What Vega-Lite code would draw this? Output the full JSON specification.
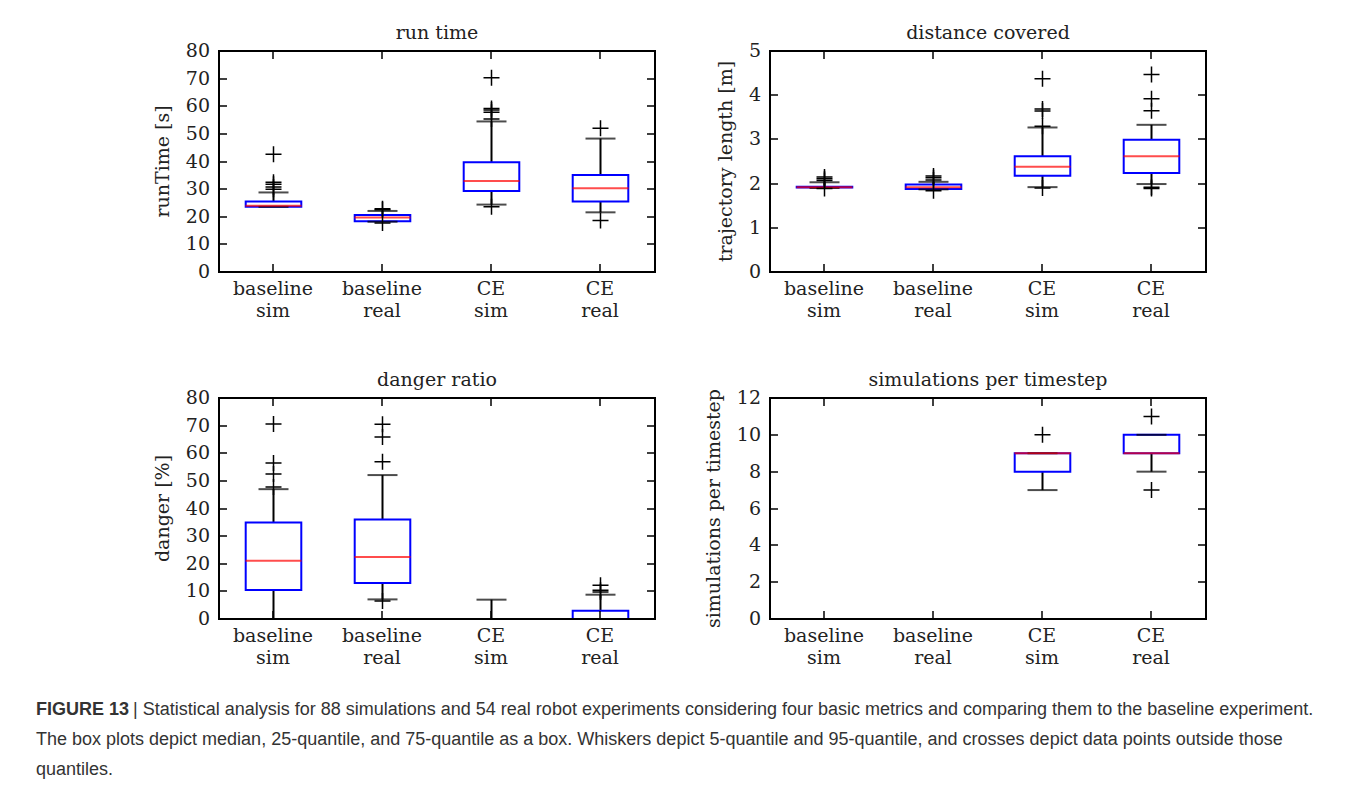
{
  "$schema": "https://vega.github.io/schema/vega-lite/v6.json",
  "background": "white",
  "padding": {"left": 36, "top": 24, "right": 10, "bottom": 5},
  "datasets": {
    "boxes": [
      {"metric": "run", "cat": "baseline sim", "lo": 23.6, "q1": 23.6, "med": 24.0, "q3": 25.5, "hi": 28.8},
      {"metric": "run", "cat": "baseline real", "lo": 18.2, "q1": 18.4, "med": 19.7, "q3": 20.6, "hi": 22.1},
      {"metric": "run", "cat": "CE sim", "lo": 24.4, "q1": 29.3, "med": 32.9, "q3": 39.7, "hi": 54.5},
      {"metric": "run", "cat": "CE real", "lo": 21.6, "q1": 25.5, "med": 30.3, "q3": 35.1, "hi": 48.3},
      {"metric": "dist", "cat": "baseline sim", "lo": 1.90, "q1": 1.91, "med": 1.92, "q3": 1.93, "hi": 2.03},
      {"metric": "dist", "cat": "baseline real", "lo": 1.87, "q1": 1.88, "med": 1.92, "q3": 1.98, "hi": 2.04},
      {"metric": "dist", "cat": "CE sim", "lo": 1.92, "q1": 2.18, "med": 2.38, "q3": 2.62, "hi": 3.27},
      {"metric": "dist", "cat": "CE real", "lo": 1.99, "q1": 2.24, "med": 2.62, "q3": 2.99, "hi": 3.33},
      {"metric": "danger", "cat": "baseline sim", "lo": 0, "q1": 10.5, "med": 21.1, "q3": 34.9, "hi": 47.0},
      {"metric": "danger", "cat": "baseline real", "lo": 7.1, "q1": 13.0, "med": 22.4, "q3": 36.0, "hi": 52.1},
      {"metric": "danger", "cat": "CE sim", "lo": 0, "q1": 0, "med": 0, "q3": 0, "hi": 7.0},
      {"metric": "danger", "cat": "CE real", "lo": 0, "q1": 0, "med": 0, "q3": 3.0, "hi": 8.8},
      {"metric": "sims", "cat": "baseline sim", "lo": 0, "q1": 0, "med": 0, "q3": 0, "hi": 0},
      {"metric": "sims", "cat": "baseline real", "lo": 0, "q1": 0, "med": 0, "q3": 0, "hi": 0},
      {"metric": "sims", "cat": "CE sim", "lo": 7, "q1": 8, "med": 9, "q3": 9, "hi": 9},
      {"metric": "sims", "cat": "CE real", "lo": 8, "q1": 9, "med": 9, "q3": 10, "hi": 10}
    ],
    "fliers": [
      {"metric": "run", "cat": "baseline sim", "v": 30.0},
      {"metric": "run", "cat": "baseline sim", "v": 30.8},
      {"metric": "run", "cat": "baseline sim", "v": 31.8},
      {"metric": "run", "cat": "baseline sim", "v": 32.5},
      {"metric": "run", "cat": "baseline sim", "v": 42.6},
      {"metric": "run", "cat": "baseline real", "v": 22.5},
      {"metric": "run", "cat": "baseline real", "v": 22.9},
      {"metric": "run", "cat": "baseline real", "v": 17.7},
      {"metric": "run", "cat": "CE sim", "v": 23.6},
      {"metric": "run", "cat": "CE sim", "v": 55.4},
      {"metric": "run", "cat": "CE sim", "v": 57.8},
      {"metric": "run", "cat": "CE sim", "v": 58.6},
      {"metric": "run", "cat": "CE sim", "v": 59.2},
      {"metric": "run", "cat": "CE sim", "v": 70.3},
      {"metric": "run", "cat": "CE real", "v": 18.6},
      {"metric": "run", "cat": "CE real", "v": 52.0},
      {"metric": "dist", "cat": "baseline sim", "v": 2.07},
      {"metric": "dist", "cat": "baseline sim", "v": 2.11},
      {"metric": "dist", "cat": "baseline sim", "v": 2.15},
      {"metric": "dist", "cat": "baseline sim", "v": 1.89},
      {"metric": "dist", "cat": "baseline real", "v": 2.08},
      {"metric": "dist", "cat": "baseline real", "v": 2.13},
      {"metric": "dist", "cat": "baseline real", "v": 2.17},
      {"metric": "dist", "cat": "baseline real", "v": 1.84},
      {"metric": "dist", "cat": "CE sim", "v": 1.90},
      {"metric": "dist", "cat": "CE sim", "v": 3.30},
      {"metric": "dist", "cat": "CE sim", "v": 3.64},
      {"metric": "dist", "cat": "CE sim", "v": 3.69},
      {"metric": "dist", "cat": "CE sim", "v": 4.37},
      {"metric": "dist", "cat": "CE real", "v": 1.89},
      {"metric": "dist", "cat": "CE real", "v": 1.92},
      {"metric": "dist", "cat": "CE real", "v": 3.65},
      {"metric": "dist", "cat": "CE real", "v": 3.92},
      {"metric": "dist", "cat": "CE real", "v": 4.47},
      {"metric": "danger", "cat": "baseline sim", "v": 47.8},
      {"metric": "danger", "cat": "baseline sim", "v": 52.5},
      {"metric": "danger", "cat": "baseline sim", "v": 56.5},
      {"metric": "danger", "cat": "baseline sim", "v": 70.6},
      {"metric": "danger", "cat": "baseline real", "v": 6.5},
      {"metric": "danger", "cat": "baseline real", "v": 56.9},
      {"metric": "danger", "cat": "baseline real", "v": 65.9},
      {"metric": "danger", "cat": "baseline real", "v": 70.5},
      {"metric": "danger", "cat": "CE real", "v": 9.8},
      {"metric": "danger", "cat": "CE real", "v": 10.4},
      {"metric": "danger", "cat": "CE real", "v": 12.2},
      {"metric": "sims", "cat": "CE sim", "v": 10},
      {"metric": "sims", "cat": "CE real", "v": 7},
      {"metric": "sims", "cat": "CE real", "v": 11}
    ],
    "caption": [
      {"part": "head", "line": 1, "text": "FIGURE 13"},
      {"part": "first", "line": 1, "text": "| Statistical analysis for 88 simulations and 54 real robot experiments considering four basic metrics and comparing them to the baseline experiment."},
      {"part": "body", "line": 2, "text": "The box plots depict median, 25-quantile, and 75-quantile as a box. Whiskers depict 5-quantile and 95-quantile, and crosses depict data points outside those"},
      {"part": "body", "line": 3, "text": "quantiles."}
    ]
  },
  "vconcat": [
    {
      "columns": 2,
      "spacing": {"column": 115, "row": 126},
      "bounds": "flush",
      "concat": [
        {
          "width": 436, "height": 221,
          "title": "run time",
          "layer": [
            {
              "data": {"name": "boxes"},
              "transform": [{"filter": "datum.metric === 'run'"}],
              "layer": [
                {"mark": {"type": "rule", "color": "black", "strokeWidth": 2},
                 "encoding": {
                   "x": {"field": "cat", "type": "nominal", "scale": {"domain": ["baseline sim", "baseline real", "CE sim", "CE real"], "paddingInner": 0, "paddingOuter": 0},
                         "axis": {"orient": "bottom", "zindex": 2, "title": null, "labelAngle": 0, "labelExpr": "split(datum.label, ' ')", "labelBaseline": "top", "labelLineHeight": 22, "labelPadding": 16}},
                   "y": {"field": "q3", "type": "quantitative", "scale": {"domain": [0, 80], "nice": false, "zero": false},
                         "axis": {"orient": "left", "zindex": 2, "title": "runTime [s]", "values": [0,10,20,30,40,50,60,70,80], "labelPadding": 17, "titlePadding": 13}},
                   "y2": {"field": "hi"}}},
                {"mark": {"type": "rule", "color": "black", "strokeWidth": 2},
                 "encoding": {
                   "x": {"field": "cat", "type": "nominal", "axis": {"orient": "top", "zindex": 2, "title": null, "labels": false}},
                   "y": {"field": "q1", "type": "quantitative", "axis": {"orient": "right", "zindex": 2, "title": null, "labels": false, "values": [0,10,20,30,40,50,60,70,80]}},
                   "y2": {"field": "lo"}}},
                {"mark": {"type": "bar", "filled": false, "color": "#0000ff", "strokeWidth": 2, "width": {"band": 0.51}},
                 "encoding": {"x": {"field": "cat", "type": "nominal", "axis": null}, "y": {"field": "q1", "type": "quantitative", "axis": null}, "y2": {"field": "q3"}}},
                {"mark": {"type": "tick", "color": "black", "size": 30, "thickness": 2},
                 "encoding": {"x": {"field": "cat", "type": "nominal", "axis": null}, "y": {"field": "lo", "type": "quantitative", "axis": null}}},
                {"mark": {"type": "tick", "color": "black", "size": 30, "thickness": 2},
                 "encoding": {"x": {"field": "cat", "type": "nominal", "axis": null}, "y": {"field": "hi", "type": "quantitative", "axis": null}}},
                {"mark": {"type": "tick", "color": "#ff0000", "size": 56, "thickness": 2},
                 "encoding": {"x": {"field": "cat", "type": "nominal", "axis": null}, "y": {"field": "med", "type": "quantitative", "axis": null}}}
              ]
            },
            {
              "data": {"name": "fliers"},
              "transform": [{"filter": "datum.metric === 'run'"}],
              "mark": {"type": "point", "shape": "M-1,0L1,0M0,-1L0,1", "filled": false, "color": "black", "size": 256, "strokeWidth": 1.5, "opacity": 1},
              "encoding": {"x": {"field": "cat", "type": "nominal", "axis": null}, "y": {"field": "v", "type": "quantitative", "axis": null}}
            }
          ]
        },
        {
          "width": 436, "height": 221,
          "title": "distance covered",
          "layer": [
            {
              "data": {"name": "boxes"},
              "transform": [{"filter": "datum.metric === 'dist'"}],
              "layer": [
                {"mark": {"type": "rule", "color": "black", "strokeWidth": 2},
                 "encoding": {
                   "x": {"field": "cat", "type": "nominal", "scale": {"domain": ["baseline sim", "baseline real", "CE sim", "CE real"], "paddingInner": 0, "paddingOuter": 0},
                         "axis": {"orient": "bottom", "zindex": 2, "title": null, "labelAngle": 0, "labelExpr": "split(datum.label, ' ')", "labelBaseline": "top", "labelLineHeight": 22, "labelPadding": 16}},
                   "y": {"field": "q3", "type": "quantitative", "scale": {"domain": [0, 5], "nice": false, "zero": false},
                         "axis": {"orient": "left", "zindex": 2, "title": "trajectory length [m]", "values": [0,1,2,3,4,5], "labelPadding": 17, "titlePadding": 13}},
                   "y2": {"field": "hi"}}},
                {"mark": {"type": "rule", "color": "black", "strokeWidth": 2},
                 "encoding": {
                   "x": {"field": "cat", "type": "nominal", "axis": {"orient": "top", "zindex": 2, "title": null, "labels": false}},
                   "y": {"field": "q1", "type": "quantitative", "axis": {"orient": "right", "zindex": 2, "title": null, "labels": false, "values": [0,1,2,3,4,5]}},
                   "y2": {"field": "lo"}}},
                {"mark": {"type": "bar", "filled": false, "color": "#0000ff", "strokeWidth": 2, "width": {"band": 0.51}},
                 "encoding": {"x": {"field": "cat", "type": "nominal", "axis": null}, "y": {"field": "q1", "type": "quantitative", "axis": null}, "y2": {"field": "q3"}}},
                {"mark": {"type": "tick", "color": "black", "size": 30, "thickness": 2},
                 "encoding": {"x": {"field": "cat", "type": "nominal", "axis": null}, "y": {"field": "lo", "type": "quantitative", "axis": null}}},
                {"mark": {"type": "tick", "color": "black", "size": 30, "thickness": 2},
                 "encoding": {"x": {"field": "cat", "type": "nominal", "axis": null}, "y": {"field": "hi", "type": "quantitative", "axis": null}}},
                {"mark": {"type": "tick", "color": "#ff0000", "size": 56, "thickness": 2},
                 "encoding": {"x": {"field": "cat", "type": "nominal", "axis": null}, "y": {"field": "med", "type": "quantitative", "axis": null}}}
              ]
            },
            {
              "data": {"name": "fliers"},
              "transform": [{"filter": "datum.metric === 'dist'"}],
              "mark": {"type": "point", "shape": "M-1,0L1,0M0,-1L0,1", "filled": false, "color": "black", "size": 256, "strokeWidth": 1.5, "opacity": 1},
              "encoding": {"x": {"field": "cat", "type": "nominal", "axis": null}, "y": {"field": "v", "type": "quantitative", "axis": null}}
            }
          ]
        },
        {
          "width": 436, "height": 221,
          "title": "danger ratio",
          "layer": [
            {
              "data": {"name": "boxes"},
              "transform": [{"filter": "datum.metric === 'danger'"}],
              "layer": [
                {"mark": {"type": "rule", "color": "black", "strokeWidth": 2},
                 "encoding": {
                   "x": {"field": "cat", "type": "nominal", "scale": {"domain": ["baseline sim", "baseline real", "CE sim", "CE real"], "paddingInner": 0, "paddingOuter": 0},
                         "axis": {"orient": "bottom", "zindex": 2, "title": null, "labelAngle": 0, "labelExpr": "split(datum.label, ' ')", "labelBaseline": "top", "labelLineHeight": 22, "labelPadding": 16}},
                   "y": {"field": "q3", "type": "quantitative", "scale": {"domain": [0, 80], "nice": false, "zero": false},
                         "axis": {"orient": "left", "zindex": 2, "title": "danger [%]", "values": [0,10,20,30,40,50,60,70,80], "labelPadding": 17, "titlePadding": 13}},
                   "y2": {"field": "hi"}}},
                {"mark": {"type": "rule", "color": "black", "strokeWidth": 2},
                 "encoding": {
                   "x": {"field": "cat", "type": "nominal", "axis": {"orient": "top", "zindex": 2, "title": null, "labels": false}},
                   "y": {"field": "q1", "type": "quantitative", "axis": {"orient": "right", "zindex": 2, "title": null, "labels": false, "values": [0,10,20,30,40,50,60,70,80]}},
                   "y2": {"field": "lo"}}},
                {"mark": {"type": "bar", "filled": false, "color": "#0000ff", "strokeWidth": 2, "width": {"band": 0.51}},
                 "encoding": {"x": {"field": "cat", "type": "nominal", "axis": null}, "y": {"field": "q1", "type": "quantitative", "axis": null}, "y2": {"field": "q3"}}},
                {"mark": {"type": "tick", "color": "black", "size": 30, "thickness": 2},
                 "encoding": {"x": {"field": "cat", "type": "nominal", "axis": null}, "y": {"field": "lo", "type": "quantitative", "axis": null}}},
                {"mark": {"type": "tick", "color": "black", "size": 30, "thickness": 2},
                 "encoding": {"x": {"field": "cat", "type": "nominal", "axis": null}, "y": {"field": "hi", "type": "quantitative", "axis": null}}},
                {"mark": {"type": "tick", "color": "#ff0000", "size": 56, "thickness": 2},
                 "encoding": {"x": {"field": "cat", "type": "nominal", "axis": null}, "y": {"field": "med", "type": "quantitative", "axis": null}}}
              ]
            },
            {
              "data": {"name": "fliers"},
              "transform": [{"filter": "datum.metric === 'danger'"}],
              "mark": {"type": "point", "shape": "M-1,0L1,0M0,-1L0,1", "filled": false, "color": "black", "size": 256, "strokeWidth": 1.5, "opacity": 1},
              "encoding": {"x": {"field": "cat", "type": "nominal", "axis": null}, "y": {"field": "v", "type": "quantitative", "axis": null}}
            }
          ]
        },
        {
          "width": 436, "height": 221,
          "title": "simulations per timestep",
          "layer": [
            {
              "data": {"name": "boxes"},
              "transform": [{"filter": "datum.metric === 'sims'"}],
              "layer": [
                {"mark": {"type": "rule", "color": "black", "strokeWidth": 2},
                 "encoding": {
                   "x": {"field": "cat", "type": "nominal", "scale": {"domain": ["baseline sim", "baseline real", "CE sim", "CE real"], "paddingInner": 0, "paddingOuter": 0},
                         "axis": {"orient": "bottom", "zindex": 2, "title": null, "labelAngle": 0, "labelExpr": "split(datum.label, ' ')", "labelBaseline": "top", "labelLineHeight": 22, "labelPadding": 16}},
                   "y": {"field": "q3", "type": "quantitative", "scale": {"domain": [0, 12], "nice": false, "zero": false},
                         "axis": {"orient": "left", "zindex": 2, "title": "simulations per timestep", "values": [0,2,4,6,8,10,12], "labelPadding": 17, "titlePadding": 13}},
                   "y2": {"field": "hi"}}},
                {"mark": {"type": "rule", "color": "black", "strokeWidth": 2},
                 "encoding": {
                   "x": {"field": "cat", "type": "nominal", "axis": {"orient": "top", "zindex": 2, "title": null, "labels": false}},
                   "y": {"field": "q1", "type": "quantitative", "axis": {"orient": "right", "zindex": 2, "title": null, "labels": false, "values": [0,2,4,6,8,10,12]}},
                   "y2": {"field": "lo"}}},
                {"mark": {"type": "bar", "filled": false, "color": "#0000ff", "strokeWidth": 2, "width": {"band": 0.51}},
                 "encoding": {"x": {"field": "cat", "type": "nominal", "axis": null}, "y": {"field": "q1", "type": "quantitative", "axis": null}, "y2": {"field": "q3"}}},
                {"mark": {"type": "tick", "color": "black", "size": 30, "thickness": 2},
                 "encoding": {"x": {"field": "cat", "type": "nominal", "axis": null}, "y": {"field": "lo", "type": "quantitative", "axis": null}}},
                {"mark": {"type": "tick", "color": "black", "size": 30, "thickness": 2},
                 "encoding": {"x": {"field": "cat", "type": "nominal", "axis": null}, "y": {"field": "hi", "type": "quantitative", "axis": null}}},
                {"mark": {"type": "tick", "color": "#ff0000", "size": 56, "thickness": 2},
                 "encoding": {"x": {"field": "cat", "type": "nominal", "axis": null}, "y": {"field": "med", "type": "quantitative", "axis": null}}}
              ]
            },
            {
              "data": {"name": "fliers"},
              "transform": [{"filter": "datum.metric === 'sims'"}],
              "mark": {"type": "point", "shape": "M-1,0L1,0M0,-1L0,1", "filled": false, "color": "black", "size": 256, "strokeWidth": 1.5, "opacity": 1},
              "encoding": {"x": {"field": "cat", "type": "nominal", "axis": null}, "y": {"field": "v", "type": "quantitative", "axis": null}}
            }
          ]
        }
      ]
    },
    {
      "width": 900, "height": 60,
      "data": {"name": "caption"},
      "encoding": {
        "x": {"datum": 0, "type": "quantitative", "scale": {"domain": [0, 1]}, "axis": null},
        "y": {"field": "line", "type": "ordinal", "scale": {"type": "point", "padding": 0}, "axis": null},
        "text": {"field": "text"}
      },
      "layer": [
        {"transform": [{"filter": "datum.part === 'head'"}],
         "mark": {"type": "text", "align": "left", "baseline": "middle", "font": "Liberation Sans", "fontSize": 18, "fontWeight": "bold", "color": "#333333", "dx": -183}},
        {"transform": [{"filter": "datum.part === 'first'"}],
         "mark": {"type": "text", "align": "left", "baseline": "middle", "font": "Liberation Sans", "fontSize": 18, "color": "#333333", "dx": -86}},
        {"transform": [{"filter": "datum.part === 'body'"}],
         "mark": {"type": "text", "align": "left", "baseline": "middle", "font": "Liberation Sans", "fontSize": 18, "color": "#333333", "dx": -183}}
      ]
    }
  ],
  "spacing": 33,
  "config": {
    "view": {"stroke": null},
    "font": "DejaVu Serif",
    "axis": {"translate": 0, "domainColor": "black", "domainWidth": 2, "domainCap": "square", "tickColor": "black", "tickWidth": 1.5, "tickSize": -8, "labelFont": "DejaVu Serif", "labelFontSize": 19, "labelColor": "#222222", "titleFont": "DejaVu Serif", "titleFontSize": 19, "titleFontWeight": "normal", "titleColor": "#222222", "grid": false},
    "title": {"font": "DejaVu Serif", "fontSize": 19, "fontWeight": "normal", "color": "#222222", "offset": -1}
  }
}
